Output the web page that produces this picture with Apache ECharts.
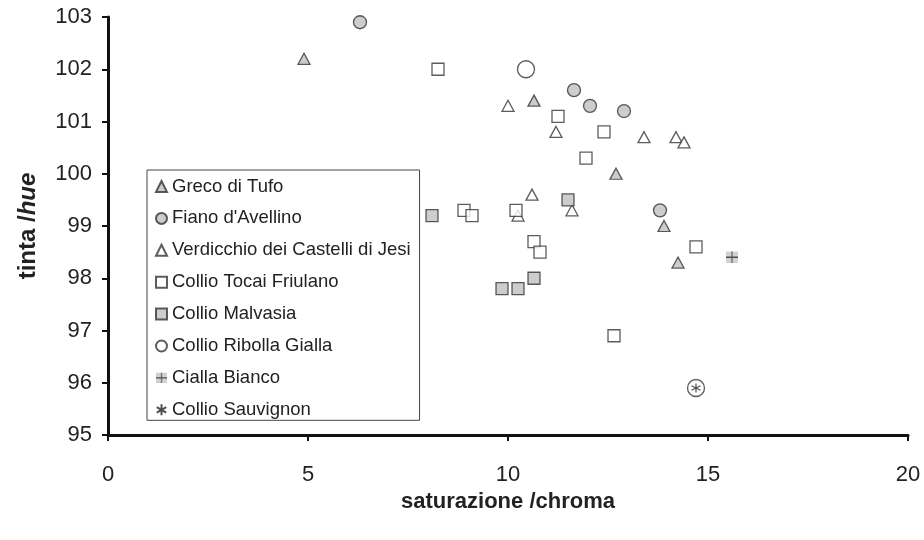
<!DOCTYPE html>
<html>
<head>
<meta charset="utf-8">
<script src="https://cdn.jsdelivr.net/npm/echarts@6/dist/echarts.min.js"></script>
<style>
  html, body { margin: 0; padding: 0; background: #fff; }
  #chart { width: 924px; height: 540px; }
</style>
</head>
<body>
<div id="chart"></div>
<script>
// Chroma (x) and hue (y) readings for each wine
const grecoX = [4.9, 10.65, 12.7, 13.9, 14.25];
const grecoY = [102.2, 101.4, 100.0, 99.0, 98.3];

const fianoX = [6.3, 11.65, 12.05, 12.9, 13.8];
const fianoY = [102.9, 101.6, 101.3, 101.2, 99.3];

const verdicchioX = [10.0, 11.2, 13.4, 14.2, 14.4, 10.6, 10.25, 11.6];
const verdicchioY = [101.3, 100.8, 100.7, 100.7, 100.6, 99.6, 99.2, 99.3];

const tocaiX = [8.25, 11.25, 12.4, 11.95, 8.9, 9.1, 10.2, 10.65, 10.8, 14.7, 12.65];
const tocaiY = [102.0, 101.1, 100.8, 100.3, 99.3, 99.2, 99.3, 98.7, 98.5, 98.6, 96.9];

const malvasiaX = [8.1, 11.5, 10.65, 9.85, 10.25];
const malvasiaY = [99.2, 99.5, 98.0, 97.8, 97.8];

const ribollaX = [10.45, 14.7];
const ribollaY = [102.0, 95.9];

const ciallaX = [15.6];
const ciallaY = [98.4];

const sauvignonX = [14.7];
const sauvignonY = [95.9];

const seriesNames = [
  'Greco di Tufo',
  "Fiano d'Avellino",
  'Verdicchio dei Castelli di Jesi',
  'Collio Tocai Friulano',
  'Collio Malvasia',
  'Collio Ribolla Gialla',
  'Cialla Bianco',
  'Collio Sauvignon'
];

const xTicks = { min: 0, max: 20, interval: 5 };
const yTicks = { min: 95, max: 103, interval: 1 };

function pairs(xs, ys) { return xs.map((x, i) => [x, ys[i]]); }

const FONT = "'Liberation Sans', Arial, sans-serif";
const GRAY = '#c0c0c0';
const EDGE = '#333333';

const plusSvg = "<svg xmlns='http://www.w3.org/2000/svg' width='24' height='24'>" +
  "<rect x='0' y='0' width='24' height='24' fill='#c6c6c6'/>" +
  "<path d='M12 0V24' stroke='#555' stroke-width='3'/>" +
  "<path d='M0 12H24' stroke='#222' stroke-width='3'/></svg>";
const plusSymbol = 'image://data:image/svg+xml;charset=utf-8,' + encodeURIComponent(plusSvg);

const asteriskPath = 'path://M5,0L5,10M0.7,2.5L9.3,7.5M0.7,7.5L9.3,2.5';

const chart = echarts.init(document.getElementById('chart'), null, { renderer: 'canvas' });

chart.setOption({
  animation: false,
  backgroundColor: '#ffffff',
  textStyle: { fontFamily: FONT },
  grid: { left: 108, right: 16, top: 17, bottom: 105, containLabel: false },
  xAxis: {
    type: 'value',
    min: xTicks.min, max: xTicks.max, interval: xTicks.interval,
    name: 'saturazione /chroma',
    nameLocation: 'middle',
    nameGap: 53,
    nameTextStyle: { fontFamily: FONT, fontSize: 22, fontWeight: 'bold', color: '#222' },
    axisLine: { onZero: false, lineStyle: { color: '#111', width: 3 } },
    axisTick: { show: true, inside: false, length: 6, lineStyle: { color: '#111', width: 2 } },
    axisLabel: { margin: 29, fontFamily: FONT, fontSize: 22, color: '#222' },
    splitLine: { show: false }
  },
  yAxis: {
    type: 'value',
    min: yTicks.min, max: yTicks.max, interval: yTicks.interval,
    name: '{b|tinta /}{bi|hue}',
    nameLocation: 'middle',
    nameRotate: 90,
    nameGap: 68,
    nameTextStyle: {
      rich: {
        b: { fontFamily: FONT, fontSize: 24, fontWeight: 'bold', color: '#222' },
        bi: { fontFamily: FONT, fontSize: 24, fontWeight: 'bold', fontStyle: 'italic', color: '#222' }
      }
    },
    axisLine: { onZero: false, lineStyle: { color: '#111', width: 3 } },
    axisTick: { show: true, inside: false, length: 6, lineStyle: { color: '#111', width: 2 } },
    axisLabel: { margin: 16, fontFamily: FONT, fontSize: 22, color: '#222' },
    splitLine: { show: false }
  },
  legend: {
    orient: 'vertical',
    left: 147,
    top: 170,
    padding: [7, 9, 1, 8],
    itemGap: 12.9,
    itemWidth: 11,
    itemHeight: 11,
    borderColor: '#444',
    borderWidth: 1,
    backgroundColor: '#ffffff',
    selectedMode: false,
    textStyle: { fontFamily: FONT, fontSize: 18.5, color: '#222', lineHeight: 18 },
    data: seriesNames
  },
  series: [
    {
      name: seriesNames[0], type: 'scatter', z: 2,
      symbol: 'triangle', symbolSize: [12, 11],
      itemStyle: { color: GRAY, borderColor: EDGE, borderWidth: 1.3 },
      data: pairs(grecoX, grecoY)
    },
    {
      name: seriesNames[1], type: 'scatter', z: 2,
      symbol: 'circle', symbolSize: 13,
      itemStyle: { color: GRAY, borderColor: EDGE, borderWidth: 1.3 },
      data: pairs(fianoX, fianoY)
    },
    {
      name: seriesNames[2], type: 'scatter', z: 2,
      symbol: 'triangle', symbolSize: [12, 11],
      itemStyle: { color: '#ffffff', borderColor: EDGE, borderWidth: 1.3 },
      data: pairs(verdicchioX, verdicchioY)
    },
    {
      name: seriesNames[3], type: 'scatter', z: 2,
      symbol: 'rect', symbolSize: 12,
      itemStyle: { color: '#ffffff', borderColor: EDGE, borderWidth: 1.3 },
      data: pairs(tocaiX, tocaiY)
    },
    {
      name: seriesNames[4], type: 'scatter', z: 2,
      symbol: 'rect', symbolSize: 12,
      itemStyle: { color: GRAY, borderColor: EDGE, borderWidth: 1.3 },
      data: pairs(malvasiaX, malvasiaY)
    },
    {
      name: seriesNames[5], type: 'scatter', z: 2,
      symbol: 'circle', symbolSize: 17,
      itemStyle: { color: 'rgba(255,255,255,0)', borderColor: EDGE, borderWidth: 1.3 },
      data: pairs(ribollaX, ribollaY)
    },
    {
      name: seriesNames[6], type: 'scatter', z: 2,
      symbol: plusSymbol, symbolSize: 12,
      data: pairs(ciallaX, ciallaY)
    },
    {
      name: seriesNames[7], type: 'scatter', z: 3,
      symbol: asteriskPath, symbolSize: 9,
      itemStyle: { color: 'rgba(0,0,0,0)', borderColor: '#222', borderWidth: 1.2 },
      data: pairs(sauvignonX, sauvignonY)
    }
  ]
});
</script>
</body>
</html>
